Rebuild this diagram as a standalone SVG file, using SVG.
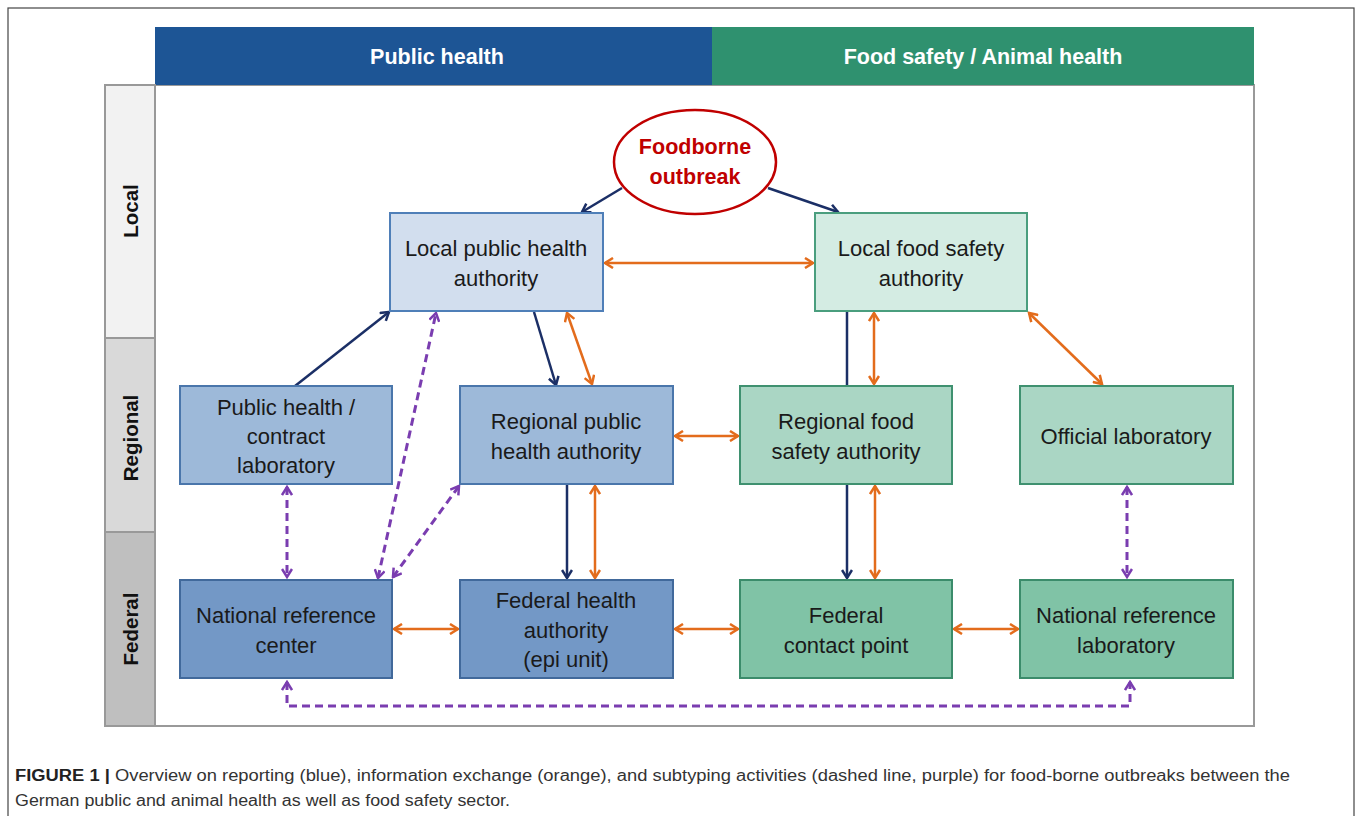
<svg xmlns="http://www.w3.org/2000/svg" width="1358" height="816" viewBox="0 0 1358 816">
<defs>
<style>
.t{font-family:"Liberation Sans",Arial,sans-serif;font-size:22px;fill:#1a1a1a;text-anchor:middle}
.hd{font-family:"Liberation Sans",Arial,sans-serif;font-size:21.5px;font-weight:bold;fill:#fff;text-anchor:middle}
.side{font-family:"Liberation Sans",Arial,sans-serif;font-size:20.5px;font-weight:bold;fill:#111;text-anchor:middle}
.red{font-family:"Liberation Sans",Arial,sans-serif;font-size:21.5px;font-weight:bold;fill:#c00000;text-anchor:middle}
.cap{font-family:"Liberation Sans Narrow","Liberation Sans",Arial,sans-serif;font-size:16px;fill:#333}
.ph1{fill:#d2deee;stroke:#4f7fb8;stroke-width:2}
.ph2{fill:#9db9d9;stroke:#4a76ab;stroke-width:2}
.ph3{fill:#7398c6;stroke:#41699b;stroke-width:2}
.fs1{fill:#d4ece3;stroke:#4a9e7e;stroke-width:2}
.fs2{fill:#aad6c4;stroke:#3f9170;stroke-width:2}
.fs3{fill:#80c3a6;stroke:#3b8c6b;stroke-width:2}
.nv{stroke:#1b2f66;stroke-width:2.5;fill:none}
.or{stroke:#e36c1c;stroke-width:2.5;fill:none}
.pu{stroke:#7a3db0;stroke-width:3;fill:none;stroke-dasharray:8 5}
</style>
<marker id="aN" viewBox="0 0 12 12" refX="10" refY="6" markerWidth="12" markerHeight="12" markerUnits="userSpaceOnUse" orient="auto-start-reverse"><path d="M2,1 L10,6 L2,11" fill="none" stroke="#1b2f66" stroke-width="2.5"/></marker>
<marker id="aO" viewBox="0 0 12 12" refX="10" refY="6" markerWidth="12" markerHeight="12" markerUnits="userSpaceOnUse" orient="auto-start-reverse"><path d="M2,1 L10,6 L2,11" fill="none" stroke="#e36c1c" stroke-width="2.5"/></marker>
<marker id="aP" viewBox="0 0 12 12" refX="10" refY="6" markerWidth="12" markerHeight="12" markerUnits="userSpaceOnUse" orient="auto-start-reverse"><path d="M2,1 L10,6 L2,11" fill="none" stroke="#7a3db0" stroke-width="2.5"/></marker>
</defs>
<rect x="0" y="0" width="1358" height="816" fill="#fff"/>
<rect x="8" y="8" width="1346" height="820" fill="none" stroke="#444" stroke-width="1.2"/>

<g id="frame">
<rect x="155" y="85" width="1099" height="641" fill="#fff" stroke="#999" stroke-width="2"/>
<rect x="155" y="27" width="557" height="58" fill="#1d5595"/>
<rect x="712" y="27" width="542" height="58" fill="#2f916f"/>
<text class="hd" x="437" y="64">Public health</text>
<text class="hd" x="983" y="64">Food safety / Animal health</text>
</g>
<g id="lane-local"><rect x="105" y="85" width="50" height="253" fill="#f2f2f2" stroke="#999" stroke-width="2"/><text class="side" transform="translate(138,211) rotate(-90)">Local</text></g>
<g id="lane-regional"><rect x="105" y="338" width="50" height="194" fill="#d9d9d9" stroke="#999" stroke-width="2"/><text class="side" transform="translate(138,438) rotate(-90)">Regional</text></g>
<g id="lane-federal"><rect x="105" y="532" width="50" height="194" fill="#bfbfbf" stroke="#999" stroke-width="2"/><text class="side" transform="translate(138,629) rotate(-90)">Federal</text></g>

<g id="connectors">
<line class="nv" x1="622" y1="188" x2="582" y2="212" marker-end="url(#aN)"/>
<line class="nv" x1="768" y1="188" x2="838" y2="212" marker-end="url(#aN)"/>
<line class="or" x1="605" y1="263" x2="813" y2="263" marker-start="url(#aO)" marker-end="url(#aO)"/>
<line class="nv" x1="295" y1="386" x2="389" y2="312" marker-end="url(#aN)"/>
<line class="pu" x1="378" y1="578" x2="436" y2="313" marker-start="url(#aP)" marker-end="url(#aP)"/>
<line class="pu" x1="393" y1="577" x2="459" y2="486" marker-start="url(#aP)" marker-end="url(#aP)"/>
<line class="nv" x1="534" y1="312" x2="556" y2="385" marker-end="url(#aN)"/>
<line class="or" x1="567" y1="313" x2="592" y2="384" marker-start="url(#aO)" marker-end="url(#aO)"/>
<line class="nv" x1="847" y1="312" x2="847" y2="386"/>
<line class="or" x1="874" y1="313" x2="874" y2="384" marker-start="url(#aO)" marker-end="url(#aO)"/>
<line class="or" x1="1029" y1="313" x2="1102" y2="384" marker-start="url(#aO)" marker-end="url(#aO)"/>
<line class="or" x1="675" y1="436" x2="738" y2="436" marker-start="url(#aO)" marker-end="url(#aO)"/>
<line class="nv" x1="567" y1="485" x2="567" y2="578" marker-end="url(#aN)"/>
<line class="or" x1="595" y1="486" x2="595" y2="578" marker-start="url(#aO)" marker-end="url(#aO)"/>
<line class="nv" x1="847" y1="485" x2="847" y2="578" marker-end="url(#aN)"/>
<line class="or" x1="875" y1="486" x2="875" y2="578" marker-start="url(#aO)" marker-end="url(#aO)"/>
<line class="pu" x1="287" y1="487" x2="287" y2="577" marker-start="url(#aP)" marker-end="url(#aP)"/>
<line class="pu" x1="1127" y1="487" x2="1127" y2="577" marker-start="url(#aP)" marker-end="url(#aP)"/>
<line class="or" x1="394" y1="629" x2="458" y2="629" marker-start="url(#aO)" marker-end="url(#aO)"/>
<line class="or" x1="675" y1="629" x2="738" y2="629" marker-start="url(#aO)" marker-end="url(#aO)"/>
<line class="or" x1="954" y1="629" x2="1018" y2="629" marker-start="url(#aO)" marker-end="url(#aO)"/>
<path class="pu" d="M287,682 L287,706 L1130,706 L1130,682" marker-start="url(#aP)" marker-end="url(#aP)"/>
</g>

<g id="outbreak"><ellipse cx="695" cy="162" rx="81" ry="52" fill="#fff" stroke="#c00000" stroke-width="2.5"/><text class="red" x="695" y="154">Foodborne</text><text class="red" x="695" y="184">outbreak</text></g>
<g id="local-ph"><rect class="ph1" x="390" y="213" width="213" height="98"/><text class="t" x="496" y="256">Local public health</text><text class="t" x="496" y="286">authority</text></g>
<g id="local-fs"><rect class="fs1" x="815" y="213" width="212" height="98"/><text class="t" x="921" y="256">Local food safety</text><text class="t" x="921" y="286">authority</text></g>
<g id="ph-lab"><rect class="ph2" x="180" y="386" width="212" height="98"/><text class="t" x="286" y="415">Public health /</text><text class="t" x="286" y="444">contract</text><text class="t" x="286" y="473">laboratory</text></g>
<g id="regional-ph"><rect class="ph2" x="460" y="386" width="213" height="98"/><text class="t" x="566" y="429">Regional public</text><text class="t" x="566" y="459">health authority</text></g>
<g id="regional-fs"><rect class="fs2" x="740" y="386" width="212" height="98"/><text class="t" x="846" y="429">Regional food</text><text class="t" x="846" y="459">safety authority</text></g>
<g id="official-lab"><rect class="fs2" x="1020" y="386" width="213" height="98"/><text class="t" x="1126" y="444">Official laboratory</text></g>
<g id="nrc"><rect class="ph3" x="180" y="580" width="212" height="98"/><text class="t" x="286" y="623">National reference</text><text class="t" x="286" y="653">center</text></g>
<g id="fha"><rect class="ph3" x="460" y="580" width="213" height="98"/><text class="t" x="566" y="608">Federal health</text><text class="t" x="566" y="638">authority</text><text class="t" x="566" y="667">(epi unit)</text></g>
<g id="fcp"><rect class="fs3" x="740" y="580" width="212" height="98"/><text class="t" x="846" y="623">Federal</text><text class="t" x="846" y="653">contact point</text></g>
<g id="nrl"><rect class="fs3" x="1020" y="580" width="213" height="98"/><text class="t" x="1126" y="623">National reference</text><text class="t" x="1126" y="653">laboratory</text></g>

<g id="caption">
<text class="cap" x="15" y="781" textLength="1275" lengthAdjust="spacingAndGlyphs"><tspan font-weight="bold" fill="#222">FIGURE 1 |</tspan> Overview on reporting (blue), information exchange (orange), and subtyping activities (dashed line, purple) for food-borne outbreaks between the</text>
<text class="cap" x="15" y="806" textLength="495" lengthAdjust="spacingAndGlyphs">German public and animal health as well as food safety sector.</text>
</g>
</svg>
